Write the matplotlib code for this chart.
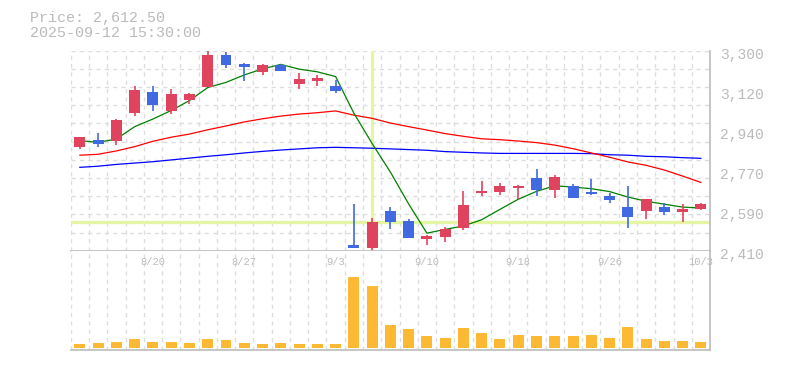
import numpy as np
import matplotlib
matplotlib.use("Agg")
import matplotlib.pyplot as plt
import matplotlib.transforms as mtransforms

# trading days shown on the chart
dates = ["8/14", "8/15", "8/18", "8/19", "8/20", "8/21", "8/22", "8/25", "8/26", "8/27",
         "8/28", "8/29", "9/1", "9/2", "9/3", "9/4", "9/5", "9/8", "9/9", "9/10",
         "9/11", "9/12", "9/16", "9/17", "9/18", "9/19", "9/22", "9/24", "9/25", "9/26",
         "9/29", "9/30", "10/1", "10/2", "10/3"]

opens = [2873, 2904, 2900, 3024, 3116, 3033, 3082, 3140, 3281, 3242,
         3207, 3238, 3153, 3166, 3143, 2435, 2423, 2587, 2542, 2463,
         2472, 2512, 2667, 2673, 2688, 2734, 2681, 2698, 2671, 2653,
         2604, 2588, 2604, 2584, 2596]
highs = [2918, 2934, 2995, 3143, 3143, 3130, 3113, 3303, 3294, 3247,
         3242, 3242, 3201, 3192, 3170, 2618, 2554, 2604, 2550, 2480,
         2515, 2676, 2720, 2711, 2704, 2774, 2747, 2707, 2729, 2667,
         2698, 2642, 2622, 2618, 2622]
lows = [2864, 2873, 2882, 3009, 3033, 3020, 3064, 3140, 3224, 3166,
        3193, 3211, 3131, 3144, 3113, 2423, 2413, 2508, 2468, 2437,
        2450, 2503, 2655, 2659, 2639, 2655, 2646, 2646, 2659, 2624,
        2512, 2552, 2570, 2539, 2591]
closes = [2916, 2886, 2992, 3125, 3060, 3107, 3107, 3281, 3238, 3229,
          3238, 3211, 3174, 3179, 3121, 2423, 2538, 2538, 2468, 2475,
          2507, 2612.5, 2676, 2699, 2699, 2681, 2738, 2646, 2664, 2637,
          2561, 2640, 2584, 2596, 2618]
volumes = [40, 50, 60, 90, 60, 60, 50, 90, 80, 50,
           40, 50, 40, 40, 40, 710, 620, 230, 190, 120,
           100, 200, 150, 90, 130, 120, 120, 120, 130, 100,
           210, 90, 70, 70, 60]

ma5 = [2900, 2892, 2907, 2962, 2996, 3034, 3078, 3136, 3159, 3192,
       3219, 3239, 3218, 3206, 3185, 3022, 2887, 2760, 2618, 2488,
       2505, 2520, 2548, 2594, 2639, 2674, 2699, 2693, 2686, 2673,
       2649, 2630, 2617, 2604, 2600]
ma25 = [2835, 2839, 2854, 2873, 2897, 2915, 2929, 2948, 2965, 2983,
        2997, 3009, 3018, 3024, 3032, 3013, 2999, 2978, 2962, 2947,
        2931, 2919, 2908, 2904, 2898, 2891, 2880, 2864, 2845, 2826,
        2805, 2790, 2769, 2742, 2714]
ma75 = [2781, 2786, 2794, 2800, 2806, 2814, 2822, 2830, 2837, 2845,
        2852, 2858, 2863, 2868, 2870, 2868, 2866, 2863, 2860, 2857,
        2851, 2848, 2845, 2843, 2843, 2843, 2843, 2843, 2842, 2837,
        2835, 2830, 2828, 2824, 2821]

label_dates = ["8/20", "8/27", "9/3", "9/10", "9/18", "9/26", "10/3"]
price_low, price_high = 2410, 3300
price_labels = ["2,410", "2,590", "2,770", "2,940", "3,120", "3,300"]
header_lines = ["Price: 2,612.50", "2025-09-12 15:30:00"]
cross_date = "9/5"
cross_price = 2538

UP = "#E0435E"
DOWN = "#4169E1"
TEXT = "#BBBBBB"
GRID = "#DDDDDD"
CROSS = "#E4F5A4"
FONT = "Liberation Mono"

plt.rcParams["font.family"] = [FONT, "DejaVu Sans Mono"]

fig = plt.figure(figsize=(7.85, 3.70), dpi=100)
ax = fig.add_axes([0.0901, 0.3224, 0.8144, 0.5406])
axv = fig.add_axes([0.0901, 0.054, 0.8144, 0.2684])

n = len(dates)
x = np.arange(n)

# grid
for gx in np.arange(n) - 0.5:
    ax.axvline(gx, color=GRID, lw=1, ls=(0, (3, 3)), zorder=0)
    axv.axvline(gx, color=GRID, lw=1, ls=(0, (3, 3)), zorder=0)
for gy in np.linspace(price_low, price_high, 12):
    ax.axhline(gy, color=GRID, lw=1, ls=(0, (3, 3)), zorder=0)

# crosshair
ax.axvline(dates.index(cross_date), color=CROSS, lw=2.4, zorder=1)
ax.axhline(cross_price, color=CROSS, lw=2.4, zorder=1)

# moving averages
ax.plot(x, ma75, color="#0000FF", lw=0.9, zorder=2)
ax.plot(x, ma25, color="#FF0000", lw=0.9, zorder=2)
ax.plot(x, ma5, color="#008000", lw=0.9, zorder=2)

# candles
o = np.array(opens)
c = np.array(closes)
colors = [UP if cc >= oo else DOWN for oo, cc in zip(o, c)]
ax.vlines(x, lows, highs, colors=colors, lw=1.2, zorder=3)
body_h = np.maximum(np.abs(c - o), 6)
ax.bar(x, body_h, bottom=np.minimum(o, c), width=0.6, color=colors, zorder=4)

ax.set_xlim(-0.5, n - 0.5)
ax.set_ylim(price_low, price_high)
ax.set_xticks([])
ax.set_yticks(np.linspace(price_low, price_high, len(price_labels)))
ax.set_yticklabels(price_labels)
ax.yaxis.tick_right()
ax.tick_params(axis="y", length=0, pad=7, labelsize=10.5, labelcolor=TEXT)
shift = mtransforms.ScaledTranslation(0, -2.5 / 100, fig.dpi_scale_trans)
for lab in ax.get_yticklabels():
    lab.set_transform(lab.get_transform() + shift)
for s in ["left", "top"]:
    ax.spines[s].set_visible(False)
for s in ["right", "bottom"]:
    ax.spines[s].set_color(TEXT)
    ax.spines[s].set_linewidth(1.2)

# volume
axv.bar(x, volumes, width=0.6, color="#FDB934", zorder=2)
axv.set_xlim(-0.5, n - 0.5)
axv.set_ylim(-20, 973)
axv.set_xticks([])
axv.set_yticks([])
for s in ["left", "top"]:
    axv.spines[s].set_visible(False)
for s in ["right", "bottom"]:
    axv.spines[s].set_color(TEXT)
    axv.spines[s].set_linewidth(1.2)
for d in label_dates:
    axv.text(dates.index(d), 0.886, d, transform=axv.get_xaxis_transform(),
             ha="center", va="center", fontsize=7.5, color=TEXT, zorder=5)

# header
fig.text(0.038, 0.951, header_lines[0], ha="left", va="center", fontsize=10.8, color=TEXT)
fig.text(0.038, 0.911, header_lines[1], ha="left", va="center", fontsize=10.8, color=TEXT)

fig.savefig("out.png", dpi=100)
